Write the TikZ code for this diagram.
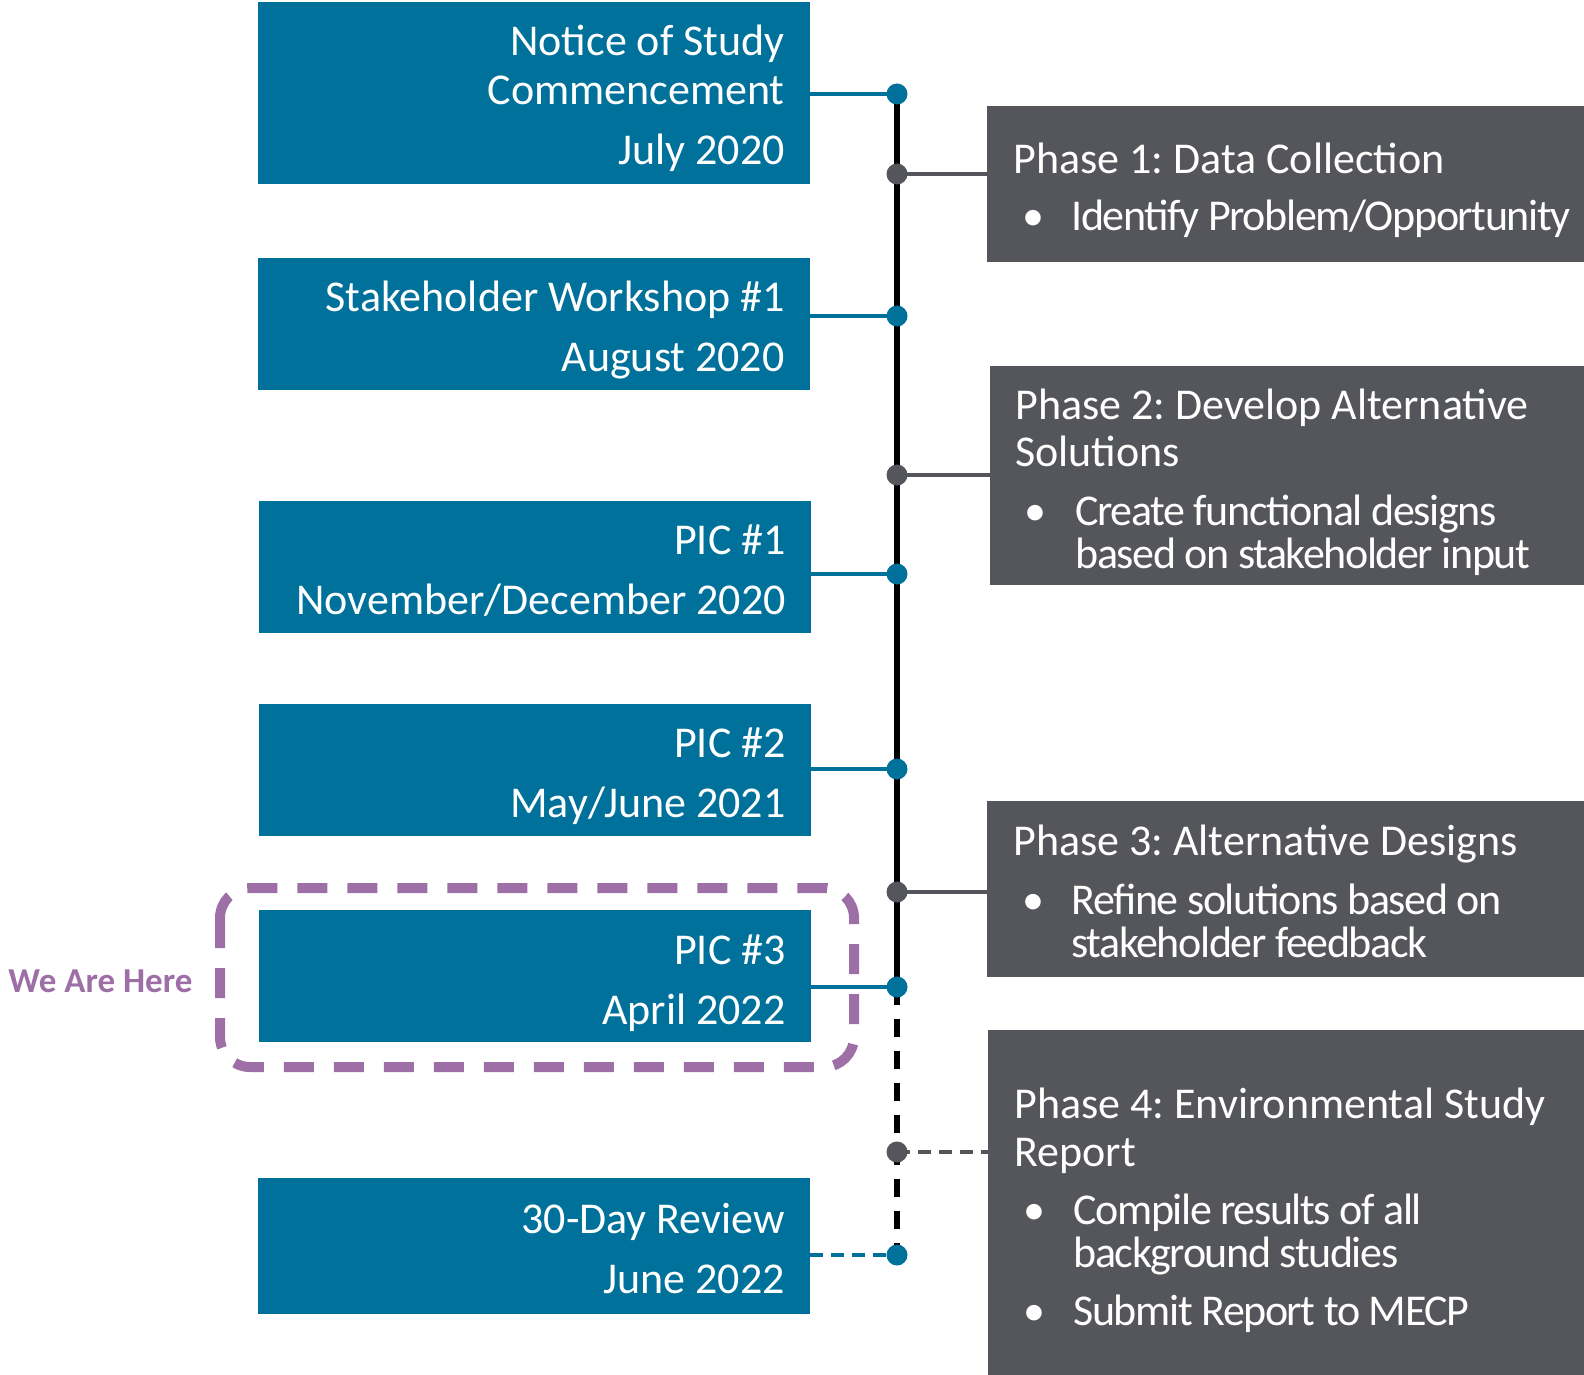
\documentclass[tikz,border=0pt]{standalone}
\usepackage{fontspec}
\setmainfont{Carlito}
\newfontfamily\tightfont[LetterSpace=-3.2]{Carlito}
\usetikzlibrary{fit}
\definecolor{tblue}{HTML}{00719A}
\definecolor{tgray}{HTML}{55565B}
\definecolor{tpurple}{HTML}{9E6FA6}
\frenchspacing
\begin{document}
\begin{tikzpicture}[x=0.5pt,y=-0.5pt,
  bluebox/.style={fill=tblue, draw=none, inner sep=0pt},
  graybox/.style={fill=tgray, draw=none, inner sep=0pt},
  btxt/.style={anchor=base east, text=white, inner sep=0pt, font=\fontsize{22}{26}\selectfont},
  gtxt/.style={anchor=base west, text=white, inner sep=0pt, font=\fontsize{22}{26}\selectfont},
  gitem/.style={anchor=base west, text=white, inner sep=0pt, font=\tightfont\fontsize{22}{26}\selectfont},
  gbul/.style={anchor=base, text=white, inner sep=0pt, font=\fontsize{22}{26}\selectfont},
  dotb/.style={circle, fill=tblue, minimum size=10.5pt, inner sep=0pt},
  dotg/.style={circle, fill=tgray, minimum size=10.5pt, inner sep=0pt},
  bconn/.style={draw=tblue, line width=2.25pt},
  gconn/.style={draw=tgray, line width=2.25pt},
  tline/.style={draw=black, line width=2.75pt},
  tdash/.style={draw=black, line width=2.75pt, dash pattern=on 9pt off 7pt},
  gdash/.style={draw=tgray, line width=2.25pt, dash pattern=on 6.5pt off 4pt},
  bdash/.style={draw=tblue, line width=2.25pt, dash pattern=on 6.5pt off 4pt},
  herebox/.style={draw=tpurple, line width=5pt, dash pattern=on 15pt off 10pt, rounded corners=15pt},
  heretxt/.style={anchor=base west, text=tpurple, inner sep=0pt, font=\fontsize{17.5}{21}\selectfont\bfseries}
]
\useasboundingbox (0,0) rectangle (1584,1375);

% boxes
\node[bluebox, fit={(258,2)(810,184)}] (b1) {};
\node[bluebox, fit={(258,258)(810,390)}] (b2) {};
\node[bluebox, fit={(259,501)(811,633)}] (b3) {};
\node[bluebox, fit={(259,704)(811,836)}] (b4) {};
\node[bluebox, fit={(259,910)(811,1042)}] (b5) {};
\node[bluebox, fit={(258,1178)(810,1314)}] (b6) {};

\node[graybox, fit={(987,106)(1584,262)}] (p1) {};
\node[graybox, fit={(990,366)(1584,585)}] (p2) {};
\node[graybox, fit={(987,801)(1584,977)}] (p3) {};
\node[graybox, fit={(988,1030)(1584,1375)}] (p4) {};

% we are here
\draw[herebox] (220,888) rectangle (854,1067);
\node[heretxt] (here) at (8,992) {We Are Here};

% timeline coordinates
\coordinate (t1) at (897,94);
\coordinate (t2) at (897,316);
\coordinate (t3) at (897,574);
\coordinate (t4) at (897,769);
\coordinate (t5) at (897,987);
\coordinate (t6) at (897,1255);
\coordinate (s1) at (897,174);
\coordinate (s2) at (897,475);
\coordinate (s3) at (897,892);
\coordinate (s4) at (897,1152);

\draw[tline] (t1) -- (t5);
\draw[tdash] (t5) -- (t6);

\draw[bconn] (b1.east |- t1) -- (t1);
\draw[bconn] (b2.east |- t2) -- (t2);
\draw[bconn] (b3.east |- t3) -- (t3);
\draw[bconn] (b4.east |- t4) -- (t4);
\draw[bconn] (b5.east |- t5) -- (t5);
\draw[bdash] (b6.east |- t6) -- (t6);

\draw[gconn] (s1) -- (p1.west |- s1);
\draw[gconn] (s2) -- (p2.west |- s2);
\draw[gconn] (s3) -- (p3.west |- s3);
\draw[gdash] (s4) -- (p4.west |- s4);

\node[dotb] (d1) at (t1) {};
\node[dotb] (d2) at (t2) {};
\node[dotb] (d3) at (t3) {};
\node[dotb] (d4) at (t4) {};
\node[dotb] (d5) at (t5) {};
\node[dotb] (d6) at (t6) {};
\node[dotg] (e1) at (s1) {};
\node[dotg] (e2) at (s2) {};
\node[dotg] (e3) at (s3) {};
\node[dotg] (e4) at (s4) {};

% blue box texts
\node[btxt] (b1a) at (785,56) {Notice of Study};
\node[btxt] (b1b) at (785,105) {Commencement};
\node[btxt] (b1c) at (785,165) {July 2020};
\node[btxt] (b2a) at (785,311) {Stakeholder Workshop \#1};
\node[btxt] (b2b) at (785,371) {August 2020};
\node[btxt] (b3a) at (786,554) {PIC \#1};
\node[btxt] (b3b) at (786,614) {November/December 2020};
\node[btxt] (b4a) at (786,757) {PIC \#2};
\node[btxt] (b4b) at (786,817) {May/June 2021};
\node[btxt] (b5a) at (786,964) {PIC \#3};
\node[btxt] (b5b) at (786,1024) {April 2022};
\node[btxt] (b6a) at (785,1233) {30-Day Review};
\node[btxt] (b6b) at (785,1293) {June 2022};

% gray box texts
\node[gtxt] (p1a) at (1013,174) {Phase 1: Data Collection};
\node[gbul] (p1u) at (1033,231) {•};
\node[gitem] (p1b) at (1071,231) {Identify Problem/Opportunity};

\node[gtxt] (p2a) at (1015,419) {Phase 2: Develop Alternative};
\node[gtxt] (p2b) at (1015,466) {Solutions};
\node[gbul] (p2u) at (1035,525) {•};
\node[gitem] (p2c) at (1075,525) {Create functional designs};
\node[gitem] (p2d) at (1075,568) {based on stakeholder input};

\node[gtxt] (p3a) at (1013,855) {Phase 3: Alternative Designs};
\node[gbul] (p3u) at (1033,914) {•};
\node[gitem] (p3b) at (1071,914) {Refine solutions based on};
\node[gitem] (p3c) at (1071,957) {stakeholder feedback};

\node[gtxt] (p4a) at (1014,1118) {Phase 4: Environmental Study};
\node[gtxt] (p4b) at (1014,1166) {Report};
\node[gbul] (p4u) at (1034,1224) {•};
\node[gitem] (p4c) at (1073,1224) {Compile results of all};
\node[gitem] (p4d) at (1073,1267) {background studies};
\node[gbul] (p4v) at (1034,1325) {•};
\node[gitem] (p4e) at (1073,1325) {Submit Report to MECP};
\end{tikzpicture}
\end{document}
